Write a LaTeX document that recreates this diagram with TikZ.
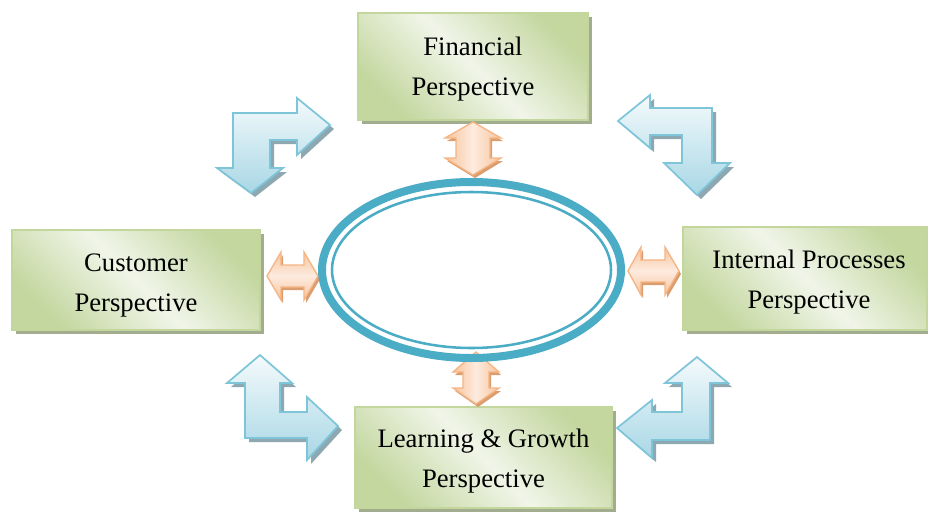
\documentclass[tikz,border=0pt]{standalone}
\usepackage{fontspec}
\setmainfont{Liberation Serif}
\usetikzlibrary{shadows}
\definecolor{ringblue}{HTML}{4BACC6}
\definecolor{boxedge}{HTML}{C3D69B}
\definecolor{boxdark}{HTML}{C3D79F}
\definecolor{boxlight}{HTML}{F1F5E9}
\definecolor{boxshadow}{HTML}{A2AD90}
\definecolor{bluetop}{HTML}{F4FAFC}
\definecolor{bluebot}{HTML}{A8D7E5}
\definecolor{blueedge}{HTML}{7FC5D9}
\definecolor{blueshadow}{HTML}{8EA8B2}
\definecolor{orangeedge}{HTML}{F5B584}
\definecolor{orangedark}{HTML}{F8C49C}
\definecolor{orangelight}{HTML}{FDEBDF}
\definecolor{orangeshadow}{HTML}{DB9C6E}
\def\arrTL{(233,113) -- (297,113) -- (297,98) -- (330,125) -- (297,155) -- (297,140) -- (270,140) -- (270,168) -- (283,168) -- (251,193) -- (217,168) -- (233,168) -- cycle}
\def\arrTR{(712,108) -- (650,108) -- (650,95) -- (618,121) -- (650,148) -- (650,135) -- (682,135) -- (682,163) -- (664,163) -- (697,195) -- (730,163) -- (712,163) -- cycle}
\def\arrBL{(260,355) -- (292,383) -- (280,383) -- (280,412) -- (307,412) -- (307,397) -- (338,426) -- (307,460) -- (307,438) -- (245,438) -- (245,383) -- (227,383) -- cycle}
\def\arrBR{(697,357) -- (728,383) -- (710,383) -- (710,440) -- (652,440) -- (652,458) -- (617,428) -- (652,400) -- (652,412) -- (682,412) -- (682,383) -- (665,383) -- cycle}
\def\dblFT{(473,122) -- (501,138) -- (490,138) -- (490,158) -- (501,158) -- (473,175) -- (445,158) -- (456,158) -- (456,138) -- (445,138) -- cycle}
\def\dblLB{(476,352) -- (499,372) -- (489,372) -- (489,388) -- (499,388) -- (476,404) -- (453,388) -- (463,388) -- (463,372) -- (453,372) -- cycle}
\def\dblCL{(267,276) -- (281,252) -- (281,265) -- (304,265) -- (304,252) -- (318,276) -- (304,300) -- (304,287) -- (281,287) -- (281,300) -- cycle}
\def\dblIR{(628,271) -- (641,247) -- (641,260) -- (665,260) -- (665,247) -- (679,271) -- (665,295) -- (665,282) -- (641,282) -- (641,295) -- cycle}
\begin{document}
\begin{tikzpicture}[x=0.75pt, y=-0.75pt,
  persp/.style 2 args={rectangle, draw=boxedge, line width=1.2pt, inner sep=0pt,
     minimum width=#1*0.75pt, minimum height=#2*0.75pt,
     top color=boxdark, bottom color=boxdark, middle color=boxlight, shading angle=-45,
     drop shadow={shadow xshift=3pt, shadow yshift=-3pt, fill=boxshadow, opacity=1}},
  ptext/.style={inner sep=0pt, align=center, font=\fontsize{20pt}{30pt}\selectfont},
  bent/.style={draw=blueedge, line width=1.3pt, line join=miter, top color=bluetop, bottom color=bluebot},
  bentshadow/.style={fill=blueshadow, shift={(4,4)}},
  dblshadow/.style={fill=orangeshadow, shift={(2,3)}},
  dblv/.style={draw=orangeedge, line width=1pt, left color=orangedark, right color=orangedark, middle color=orangelight},
  dblh/.style={draw=orangeedge, line width=1pt, top color=orangedark, bottom color=orangedark, middle color=orangelight},
  ringthick/.style={draw=ringblue, line width=6pt},
  ringthin/.style={draw=ringblue, line width=1.9pt}
]
\useasboundingbox[fill=white] (0,0) rectangle (928,511);

\node[persp={230}{107}] (fin) at (473,66.5) {};
\node[persp={248}{100}] (cust) at (136,280) {};
\node[persp={244}{103}] (intp) at (805,278.5) {};
\node[persp={257}{101}] (learn) at (483.5,457.5) {};

\node[ptext] (finT) at ([yshift=-2pt]fin.center) {Financial\\Perspective};
\node[ptext] (custT) at ([yshift=-4.5pt]cust.center) {Customer\\Perspective};
\node[ptext] (intpT) at ([xshift=3pt, yshift=-3pt]intp.center) {Internal Processes\\Perspective};
\node[ptext] (learnT) at ([yshift=-3pt]learn.center) {Learning \& Growth\\Perspective};

\fill[bentshadow] \arrTL;
\draw[bent] \arrTL;
\fill[bentshadow] \arrTR;
\draw[bent] \arrTR;
\fill[bentshadow] \arrBL;
\draw[bent] \arrBL;
\fill[bentshadow] \arrBR;
\draw[bent] \arrBR;

\fill[dblshadow] \dblFT;
\draw[dblv] \dblFT;
\fill[dblshadow] \dblLB;
\draw[dblv] \dblLB;
\fill[dblshadow] \dblCL;
\draw[dblh] \dblCL;
\fill[dblshadow] \dblIR;
\draw[dblh] \dblIR;

\coordinate (ring) at (471.5,270);
\draw[ringthick] (ring) ellipse [x radius=149.5, y radius=88];
\draw[ringthin] (ring) ellipse [x radius=139.5, y radius=78];
\end{tikzpicture}
\end{document}
